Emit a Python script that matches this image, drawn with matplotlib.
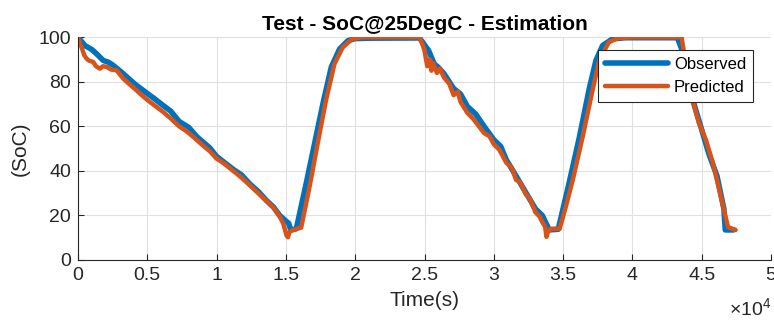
import matplotlib
matplotlib.use("Agg")
import matplotlib.pyplot as plt
from matplotlib.ticker import FuncFormatter, MultipleLocator

plt.rcParams["font.family"] = ["Liberation Sans", "DejaVu Sans"]
plt.rcParams["mathtext.fontset"] = "custom"
plt.rcParams["mathtext.rm"] = "Liberation Sans"

COLOR_OBS = "#0072BD"
COLOR_PRED = "#D95319"
COLOR_AXIS = "#262626"
COLOR_GRID = "#e0e0e0"

# time in seconds, SoC in percent
obs_time = [0, 500, 1000, 1340, 1820, 2200, 2540, 3260, 3700, 4200, 5000, 5500,
            6100, 6700, 7300, 8000, 8550, 9500, 10000, 11200, 11800, 12400,
            13000, 13600, 14100, 14550, 15000, 15200, 15350, 15750,
            16480, 17080, 17680, 18280, 18880, 19480, 20000, 21000, 24640,
            25300, 25700, 26000, 26400, 27100, 27600, 28100, 28700, 29300,
            30000, 30500, 30900, 31600, 32300, 33000, 33500, 33900, 34000,
            34650, 35450, 36170, 36890, 37370, 37850, 38570, 39500, 43250,
            43600, 44300, 45000, 45500, 46100, 46600, 46700, 47300]
obs_soc = [100, 96.3, 94.5, 92.6, 89.6, 88.8, 87.4, 83.7, 81.2, 78.5, 74.8, 72.5,
           69.6, 66.8, 62.2, 59.5, 55.5, 50.4, 46.5, 40.7, 38.2, 34.1,
           30.8, 26.7, 23.8, 20, 17.5, 16.5, 13.5, 14,
           34.8, 52.6, 70.4, 86.7, 94.8, 98.5, 99.4, 99.6, 99.7,
           94, 88, 86.5, 83.7, 77, 74.5, 68.9, 65.5, 60,
           54, 51, 45, 37.8, 30.4, 23, 20, 14.8, 13.5,
           13.8, 35, 55, 77, 89.6, 96.3, 99.3, 99.8, 99.8,
           94, 73, 58.5, 48, 37.8, 23, 13.5, 13.5]

pred_time = [0, 150, 260, 450, 620, 800, 1100, 1300, 1580, 1800, 2060, 2400,
             2780, 3000, 3260, 3700, 4200, 4600, 5000, 5500, 6100, 6700, 7300,
             7900, 8550, 9000, 9500, 10000, 10500, 11200, 11700, 12400, 13000,
             13600, 14100, 14550, 14800, 15050, 15150, 15250, 15500, 15900,
             16100, 16720, 17300, 17900, 18500, 19100, 19800, 20500, 24650,
             24900, 25000, 25200, 25400, 25500, 25600, 25900, 26100, 26400,
             26800, 27100, 27400, 27600, 28100, 28500, 29300, 29700, 30000,
             30400, 30900, 31300, 31600, 31900, 32300, 32600, 33000, 33300,
             33500, 33700, 33800, 33900, 34100, 34400, 34750, 35200, 35700,
             36400, 37100, 37600, 38300, 39000, 40000, 43550, 43650, 44200,
             44800, 45300, 45800, 46200, 46700, 46900, 47450]
pred_soc = [100, 97, 95.5, 92, 90.4, 89.5, 88.9, 87, 85.9, 87, 86.7, 85.5,
            85.2, 83.5, 81.5, 79, 76.3, 74, 71.9, 69.5, 66.7, 63.5, 60,
            57.5, 54, 51.5, 48.9, 45.5, 43.5, 40, 37.5, 33.5, 30,
            26.5, 23.5, 19.5, 16.5, 11, 10.2, 12.5, 13.5, 14.2,
            14.5, 33.3, 52.6, 71.9, 88, 95.5, 99.3, 100, 100,
            96, 94, 87, 90, 85, 88.5, 84, 86, 82,
            79, 74, 75.5, 71, 66, 63.5, 57, 55.5, 52,
            49.5, 43.7, 41.5, 36, 35, 29.6, 27.5, 21.5, 19.5,
            17, 15, 10.4, 12.5, 14, 14, 14, 24, 36,
            55, 75.5, 89.6, 97.8, 99.7, 100, 100, 96, 74.8,
            61.5, 54, 43.7, 33.3, 20, 14.8, 13.5]


fig = plt.figure(figsize=(7.74, 3.2), dpi=100)
ax = fig.add_axes([78 / 774, 60 / 320, 693 / 774, 222.7 / 320])

ax.plot(obs_time, obs_soc, color=COLOR_OBS, linewidth=4, label="Observed",
        solid_joinstyle="round", solid_capstyle="round")
ax.plot(pred_time, pred_soc, color=COLOR_PRED, linewidth=3.2, label="Predicted",
        solid_joinstyle="round", solid_capstyle="round")

ax.set_xlim(0, 50000)
ax.set_ylim(0, 100)
ax.xaxis.set_major_locator(MultipleLocator(5000))
ax.yaxis.set_major_locator(MultipleLocator(20))
ax.xaxis.set_major_formatter(FuncFormatter(lambda v, pos: f"{v / 1e4:g}"))

ax.grid(True, color=COLOR_GRID, linewidth=0.8)
ax.set_axisbelow(True)
for spine in ["top", "right"]:
    ax.spines[spine].set_visible(False)
for spine in ["left", "bottom"]:
    ax.spines[spine].set_color(COLOR_AXIS)
    ax.spines[spine].set_linewidth(0.8)
ax.tick_params(direction="in", length=4, width=0.8, colors=COLOR_AXIS,
               labelsize=14, pad=5)

ax.set_title("Test - SoC@25DegC - Estimation", fontsize=15, fontweight="bold",
             color="black", pad=5)
ax.set_xlabel("Time(s)", fontsize=15, color=COLOR_AXIS, labelpad=5)
ax.set_ylabel("(SoC)", fontsize=15, color=COLOR_AXIS, labelpad=6)
ax.text(1.0, -0.215, r"$\times\mathregular{10^{4}}$", transform=ax.transAxes,
        ha="right", va="center", fontsize=14, color=COLOR_AXIS)

leg = ax.legend(loc="upper right", bbox_to_anchor=(0.974, 0.943), borderaxespad=0,
                fontsize=12, handlelength=3.8, handletextpad=0.35, labelspacing=0.5,
                fancybox=False, framealpha=1, edgecolor=COLOR_AXIS, borderpad=0.4)
leg.get_frame().set_linewidth(0.8)

fig.savefig("out.png", dpi=100, facecolor="white")
